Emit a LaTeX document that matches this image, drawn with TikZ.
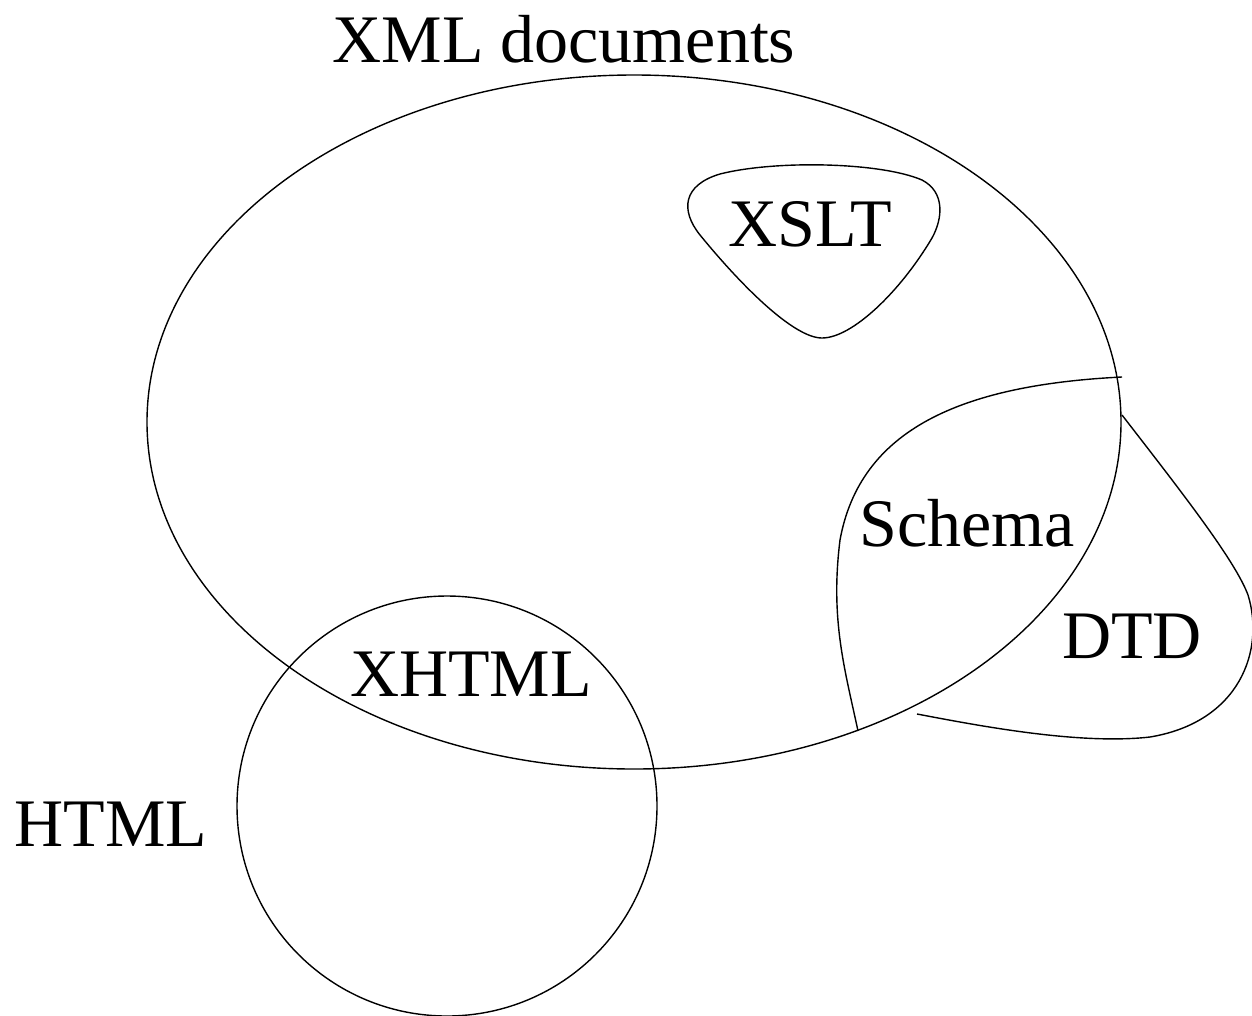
\documentclass[tikz,border=0pt]{standalone}
\usepackage{fontspec}
\setmainfont{Liberation Serif}
\begin{document}
\begin{tikzpicture}[x=1pt,y=-1pt,
  lbl/.style={inner sep=0pt,anchor=base,font=\fontsize{68}{80}\selectfont},
  shp/.style={draw=black,line width=1.4pt}]
\useasboundingbox (0,0) rectangle (1252,1015);
% XML documents ellipse
\draw[shp] (634,422) ellipse [x radius=487, y radius=347];
% HTML circle
\draw[shp] (447,806) circle [radius=210];
% XSLT
\draw[shp] (822,338) .. controls (795,338) and (745,290) .. (700,235)
  .. controls (680,210) and (683,185) .. (720,174)
  .. controls (775,160) and (880,162) .. (922,180)
  .. controls (945,192) and (943,218) .. (932,238)
  .. controls (900,292) and (852,338) .. (822,338);
% Schema
\draw[shp] (1122,377) .. controls (960,385) and (860,430) .. (840,540)
  .. controls (830,620) and (845,670) .. (858,731);
% DTD
\draw[shp] (1122,415) .. controls (1180,490) and (1235,560) .. (1248,595)
  .. controls (1265,650) and (1240,722) .. (1150,737)
  .. controls (1080,745) and (980,726) .. (917,714);
% labels
\node[lbl] (xml) at (564,62) {XML documents};
\node[lbl] (xslt) at (810,246) {XSLT};
\node[lbl] (schema) at (967,546) {Schema};
\node[lbl] (dtd) at (1132,658) {DTD};
\node[lbl] (xhtml) at (471,696) {XHTML};
\node[lbl] (html) at (111,846) {HTML};
\end{tikzpicture}
\end{document}
